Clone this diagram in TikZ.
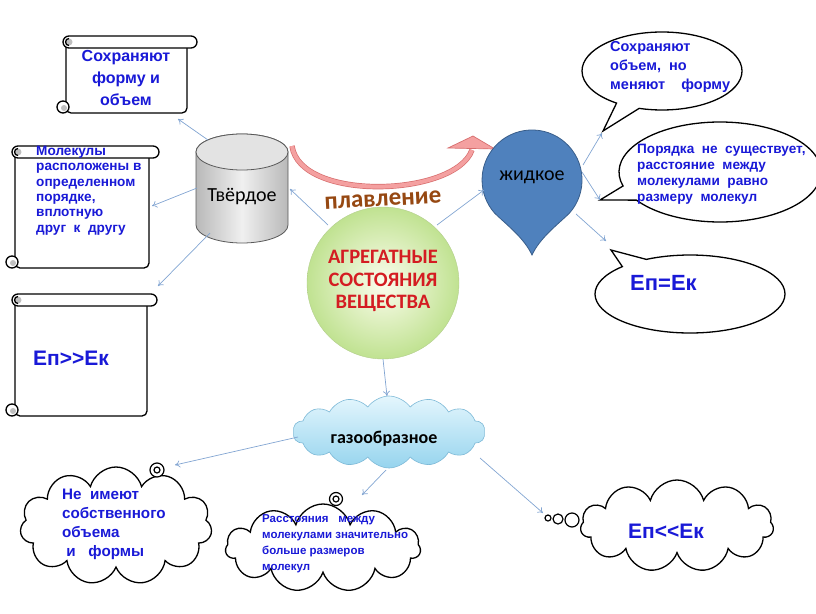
\documentclass[tikz,border=0pt]{standalone}
\usepackage{fontspec}
\setmainfont{Liberation Sans}
\newfontfamily\calfont{Carlito}
\usetikzlibrary{arrows.meta,shapes.symbols,shapes.callouts,shapes.geometric}
\definecolor{txtblue}{RGB}{25,25,215}
\definecolor{connc}{RGB}{130,165,210}
\definecolor{dropfill}{RGB}{79,129,189}
\definecolor{dropedge}{RGB}{56,93,138}
\definecolor{coreIn}{RGB}{252,253,238}
\definecolor{coreOut}{RGB}{192,226,145}
\definecolor{redtxt}{RGB}{212,28,34}
\definecolor{meltc}{RGB}{150,72,18}
\definecolor{arrfill}{RGB}{244,160,160}
\definecolor{arredge}{RGB}{215,110,110}
\definecolor{gastop}{RGB}{228,246,253}
\definecolor{gasbot}{RGB}{150,212,238}
\definecolor{gasedge}{RGB}{125,185,215}
\newcommand{\myscroll}[4]{%
  \draw[scrl, fill=white, rounded corners=5] (#1,#2+6) -- (#1,#4) -- (#3,#4) -- (#3,#2+6);
  \draw[scrl, fill=white, rounded corners=6] (#1-3,#2) rectangle (#3+10,#2+12);
  \fill[gray!50] (#1+3,#2+6) circle (3.5);
  \draw[scrl] (#1+3,#2+2.5) arc[start angle=-90, end angle=-270, radius=3.5];
  \draw[scrl, fill=white] (#1-3,#4-6) circle (6);
  \fill[gray!50] (#1-2,#4-5) circle (3);
}
\begin{document}
\begin{tikzpicture}[x=1pt,y=-1pt,
  scrl/.style={draw=black, line width=1.3pt},
  conn/.style={draw=connc, line width=0.7pt, -{To[length=5pt,width=7pt]}},
  bluetxt/.style={text=txtblue, font=\bfseries, inner sep=0pt},
  callbox/.style={ellipse callout, draw=black, line width=1.3pt, fill=white, inner sep=0pt, callout pointer arc=18},
  thought/.style={cloud, cloud puffs=11, draw=black, line width=1.3pt, fill=white, inner sep=0pt},
  bub/.style={circle, draw=black, line width=1.2pt, fill=white, inner sep=0pt}
]
\useasboundingbox (0,0) rectangle (816,613);

% ---------- scrolls ----------
\myscroll{66}{36}{187}{113}
\myscroll{15}{146}{149}{268}
\myscroll{15}{294}{147}{416}
\node[bluetxt, align=center, font=\bfseries\fontsize{16}{22}\selectfont] (s1) at (126,78) {Сохраняют\\форму и\\объем};
\node[bluetxt, align=left, anchor=north west, font=\bfseries\fontsize{13.6}{15.3}\selectfont] (s2) at (36,146) {Молекулы\\расположены в\\определенном\\порядке,\\вплотную\\друг\ \ к\ \ другу};
\node[bluetxt, anchor=west, font=\bfseries\fontsize{21}{24}\selectfont] (s3) at (33,358) {Еп>\kern0pt>Ек};

% ---------- cylinder ----------
\draw[draw=gray!70!black, line width=0.8pt, left color=gray!55, right color=gray!55, middle color=gray!12]
  (196,152) -- (196,225) arc[start angle=180, end angle=0, x radius=46, y radius=18] -- (288,152)
  arc[start angle=0, end angle=-180, x radius=46, y radius=18] -- cycle;
\draw[draw=gray!70!black, line width=0.8pt, fill=gray!22] (242,152) ellipse[x radius=46, y radius=18];
\node[font=\calfont\fontsize{20}{22}\selectfont, inner sep=0pt] (solid) at (242,197) {Твёрдое};

% ---------- core circle ----------
\node[circle, minimum size=152, inner sep=0pt, inner color=coreIn, outer color=coreOut, draw=coreOut!80!gray, line width=0.4pt] (core) at (383,283) {};
\node[align=center, text=redtxt, font=\calfont\bfseries\fontsize{20.5}{22.5}\selectfont, inner sep=0pt] (coretxt) at (383,281) {АГРЕГАТНЫЕ\\СОСТОЯНИЯ\\ВЕЩЕСТВА};

% ---------- melting arrow ----------
\draw[draw=arredge, line width=0.7pt, double=arrfill, double distance=4pt]
  (292,146) .. controls (300,202) and (455,197) .. (472,150);
\draw[draw=arredge, line width=0.7pt, fill=arrfill] (448,148) -- (473,136) -- (495,149) -- cycle;
\node[text=meltc, font=\calfont\bfseries\fontsize{25}{28}\selectfont, rotate=3, inner sep=0pt] (melt) at (383,200) {плавление};

% ---------- drop ----------
\draw[draw=dropedge, line width=0.8pt, fill=dropfill]
  (532,255) .. controls (540,238) and (556,226) .. (569.3,213.3)
  arc[start angle=41.81, end angle=-221.81, radius=50]
  .. controls (508,226) and (524,238) .. (532,255) -- cycle;
\node[font=\calfont\fontsize{20}{22}\selectfont, inner sep=0pt] (liquid) at (532,177) {жидкое};

% ---------- callouts ----------
\node[callbox, minimum width=160, minimum height=78, callout absolute pointer={(603,131)}] (c1) at (662,71) {};
\node[callbox, minimum width=202, minimum height=100, callout absolute pointer={(600,200)}] (c2) at (720,172) {};
\node[callbox, minimum width=190, minimum height=78, callout absolute pointer={(611,250)}] (c3) at (690,294) {};
\node[bluetxt, align=left, anchor=north west, font=\bfseries\fontsize{14.5}{19}\selectfont] (c1t) at (610,41) {Сохраняют\\объем,\ \ но\\меняют\ \ \ \ форму};
\node[bluetxt, align=left, anchor=north west, font=\bfseries\fontsize{13.6}{16}\selectfont] (c2t) at (637,144) {Порядка\ \ не\ \ существует,\\расстояние\ \ между\\молекулами\ \ равно\\размеру\ \ молекул};
\node[bluetxt, anchor=west, font=\bfseries\fontsize{22}{24}\selectfont] (c3t) at (630,283) {Еп=Ек};

% ---------- gas cloud ----------
\node[cloud, cloud puffs=14, cloud puff arc=110, aspect=2.7, minimum width=192, minimum height=72, inner sep=0pt,
      top color=gastop, bottom color=gasbot, draw=gasedge, line width=0.6pt] (gas) at (389,432) {};
\node[font=\calfont\bfseries\fontsize{18}{20}\selectfont, inner sep=0pt] (gastxt) at (384,439) {газообразное};

% ---------- thought clouds ----------
\node[thought, aspect=1.6, minimum width=192, minimum height=118] (t1) at (116,526) {};
\node[thought, aspect=2.2, minimum width=195, minimum height=88] (t2) at (323,548) {};
\node[thought, aspect=2.1, minimum width=193, minimum height=92] (t3) at (677,526) {};
\node[bub, minimum size=14] (b1) at (157,470) {};
\node[bub, minimum size=6] (b1i) at (157,470) {};
\node[bub, minimum size=13] (b2) at (336,499) {};
\node[bub, minimum size=6] (b2i) at (336,499) {};
\node[bub, minimum size=6] (b3a) at (548,518) {};
\node[bub, minimum size=10] (b3b) at (558,519) {};
\node[bub, minimum size=14] (b3c) at (572,520) {};
\node[bluetxt, align=left, anchor=north west, font=\bfseries\fontsize{15.2}{18.8}\selectfont] (t1t) at (62,489) {Не\ \ имеют\\собственного\\объема\\\ и\ \ \ формы};
\node[bluetxt, align=left, anchor=north west, font=\bfseries\fontsize{11.5}{16.2}\selectfont] (t2t) at (262,514) {Расстояния\ \ \ между\\молекулами значительно\\больше размеров\\молекул};
\node[bluetxt, anchor=west, font=\bfseries\fontsize{21}{24}\selectfont] (t3t) at (628,531) {Еп<\kern0pt<Ек};

% ---------- connectors ----------
\coordinate (a1) at (208,140); \coordinate (e1) at (178,119);
\coordinate (a2) at (197,188); \coordinate (e2) at (152,206);
\coordinate (a3) at (210,233); \coordinate (e3) at (158,286);
\coordinate (a4) at (328,225); \coordinate (e4) at (290,189);
\coordinate (a5) at (437,225); \coordinate (e5) at (484,190);
\coordinate (a6) at (583,165); \coordinate (e6) at (602,133);
\coordinate (a7) at (582,172); \coordinate (e7) at (600,200);
\coordinate (a8) at (576,214); \coordinate (e8) at (606,241);
\coordinate (a9) at (383,359); \coordinate (e9) at (387,396);
\coordinate (a10) at (298,437); \coordinate (e10) at (175,465);
\coordinate (a11) at (386,470); \coordinate (e11) at (362,495);
\coordinate (a12) at (480,458); \coordinate (e12) at (543,513);
\foreach \i in {1,...,12} { \draw[conn] (a\i) -- (e\i); }
\end{tikzpicture}
\end{document}
